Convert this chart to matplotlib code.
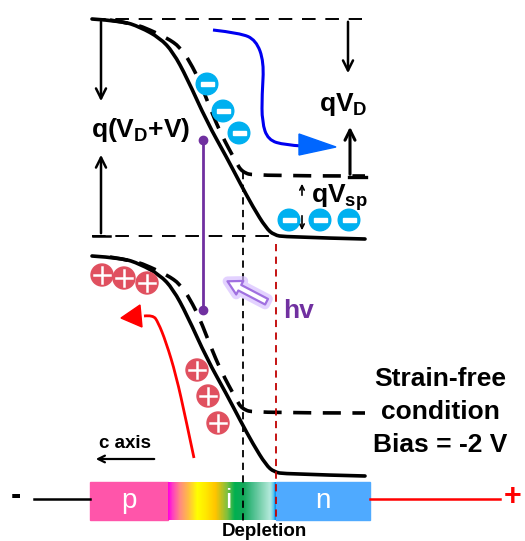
import matplotlib
matplotlib.use("Agg")
import matplotlib.pyplot as plt
import numpy as np
from matplotlib.path import Path
from matplotlib.patches import PathPatch, Circle, Rectangle, FancyArrowPatch, Polygon
from matplotlib.colors import LinearSegmentedColormap
import matplotlib.patheffects as pe

plt.rcParams['font.family'] = ['Liberation Sans', 'DejaVu Sans']
plt.rcParams['mathtext.fontset'] = 'custom'
plt.rcParams['mathtext.rm'] = 'Liberation Sans:bold'
plt.rcParams['mathtext.it'] = 'Liberation Sans:bold'
plt.rcParams['mathtext.bf'] = 'Liberation Sans:bold'
plt.rcParams['mathtext.default'] = 'rm'

# conduction band (pixel coords of the schematic), valence band is the same shape shifted down
cb_x = [92, 122, 140, 160, 173, 187, 207, 227, 240, 253, 266, 274, 285, 365]
cb_y = [19, 21, 27, 38, 52, 78, 122, 158, 183, 207, 228, 235, 237, 239]
cb_dash_x = [110, 135, 150, 167, 180, 190, 200, 210, 221, 236, 242, 255, 365]
cb_dash_y = [20, 24, 30, 38, 47, 62, 82, 108, 134, 162, 172, 176, 176]
vb_shift = 237

electrons_x = [207, 223, 239, 289, 320, 349]
electrons_y = [84, 111, 133, 220, 220, 220]
holes_x = [102, 124, 147, 197, 208, 218]
holes_y = [275, 278, 283, 370, 396, 423]

# layer bar: p | i (graded) | n
bar_edges = [90, 168, 276, 370]
bar_labels = ['p', 'i', 'n']
grad_pos = [0.0, 0.04, 0.11, 0.19, 0.27, 0.35, 0.44, 0.55, 0.62, 0.70, 0.78, 0.88, 0.95, 0.98, 1.0]
grad_cols = ['#FF00E0', '#FF40C0', '#FF8C80', '#FFC040', '#FFFF00', '#FFE800', '#FFC400',
             '#7CC040', '#00B050', '#12A858', '#45BC88', '#88D6B8', '#B4EADC', '#60C8F0', '#0090F0']

fig = plt.figure(figsize=(5.25, 5.41), dpi=100)
ax = fig.add_axes([0, 0, 1, 1])
ax.set_xlim(0, 525)
ax.set_ylim(541, 0)
ax.axis('off')


def smooth(xs, ys):
    # quadratic b-spline through midpoints
    pts = list(zip(xs, ys))
    verts = [pts[0]]
    codes = [Path.MOVETO]
    for i in range(1, len(pts) - 1):
        mid = ((pts[i][0] + pts[i + 1][0]) / 2, (pts[i][1] + pts[i + 1][1]) / 2)
        if i == len(pts) - 2:
            mid = pts[-1]
        verts += [pts[i], mid]
        codes += [Path.CURVE3, Path.CURVE3]
    return Path(verts, codes)


# reference dashed lines
ax.plot([92, 362], [19, 19], color='k', lw=1.4, ls=(0, (7, 5)))
ax.plot([92, 276], [236, 236], color='k', lw=1.4, ls=(0, (7, 5)))
ax.plot([243, 243], [172, 522], color='k', lw=1.3, ls=(0, (4, 3)))
ax.plot([276, 276], [244, 522], color='#C00000', lw=1.3, ls=(0, (4, 3)))

# bands
for off in [0, vb_shift]:
    ys = [y + off for y in cb_y]
    ax.add_patch(PathPatch(smooth(cb_x, ys), fill=False, lw=2.6, ec='k', capstyle='round'))
    ysd = [y + off for y in cb_dash_y]
    ax.add_patch(PathPatch(smooth(cb_dash_x, ysd), fill=False, lw=2.6, ec='k',
                           ls=(0, (5, 3.2))))

# energy arrows
ax.annotate('', xy=(101, 104), xytext=(101, 19), arrowprops=dict(arrowstyle='->', lw=1.8, color='k', mutation_scale=18))
ax.annotate('', xy=(101, 152), xytext=(101, 236), arrowprops=dict(arrowstyle='->', lw=1.8, color='k', mutation_scale=18))
ax.plot([93, 110], [236, 236], color='k', lw=1.8)
ax.text(91, 130, r'q(V$_{D}$+V)', fontsize=19, fontweight='bold', ha='left', va='center')

ax.annotate('', xy=(348, 76), xytext=(348, 19), arrowprops=dict(arrowstyle='->', lw=1.8, color='k', mutation_scale=18))
ax.annotate('', xy=(350, 124), xytext=(350, 177), arrowprops=dict(arrowstyle='->', lw=2.2, color='k', mutation_scale=18))
ax.plot([349, 366], [177, 177], color='k', lw=2.4)
ax.text(319, 104, r'qV$_{D}$', fontsize=19, fontweight='bold', ha='left', va='center')

ax.annotate('', xy=(302, 181), xytext=(302, 198), arrowprops=dict(arrowstyle='->', lw=1.2, color='k', mutation_scale=8))
ax.annotate('', xy=(302, 233), xytext=(302, 213), arrowprops=dict(arrowstyle='->', lw=1.2, color='k', mutation_scale=8))
ax.text(311, 198, r'qV$_{sp}$', fontsize=19, fontweight='bold', ha='left', va='center')

# carriers
for x, y in zip(electrons_x, electrons_y):
    ax.add_patch(Circle((x, y), 10.8, color='#00B0F0', zorder=5))
    ax.add_patch(Rectangle((x - 6.5, y - 2.2), 13, 4.4, color='white', zorder=6))
for x, y in zip(holes_x, holes_y):
    ax.add_patch(Circle((x, y), 11, color='#E0505F', zorder=5))
    ax.plot([x - 8, x + 8], [y, y], color='white', lw=1.8, zorder=6)
    ax.plot([x, x], [y - 8, y + 8], color='white', lw=1.8, zorder=6)

# blue electron path
blue_x = [213, 240, 256, 264, 262, 262, 268, 285, 302]
blue_y = [30, 33, 40, 62, 95, 122, 140, 145, 146]
ax.add_patch(PathPatch(smooth(blue_x, blue_y), fill=False, lw=2.2, ec='#0000F0'))
ax.add_patch(Polygon([[299, 134], [336, 147], [299, 155]], closed=True, color='#0066FF'))

# red hole path
red_x = [194, 186, 176, 166, 158, 153, 144]
red_y = [458, 420, 375, 342, 322, 315, 316]
ax.add_patch(PathPatch(smooth(red_x, red_y), fill=False, lw=2.0, ec='#FF0000'))
ax.add_patch(Polygon([[140, 305], [121, 318], [142, 327]], closed=True, color='#FF0000'))

# photon
ax.plot([203, 203], [140, 310], color='#7030A0', lw=2.0)
ax.plot([203, 203], [140, 310], 'o', color='#7030A0', ms=6)
hv = FancyArrowPatch((269, 303), (225, 280), arrowstyle='simple,head_width=1.1,head_length=1.0,tail_width=0.45',
                     mutation_scale=10, fc='white', ec='#A070E0', lw=1.6, zorder=6)
hv.set_path_effects([pe.Stroke(linewidth=7, foreground='#D8C0FF', alpha=0.7), pe.Normal()])
ax.add_patch(hv)
ax.text(283, 311, 'hv', fontsize=19, fontweight='bold', color='#7030A0', ha='left', va='center')

# condition text
ax.text(440, 379, 'Strain-free', fontsize=19, fontweight='bold', ha='center', va='center')
ax.text(440, 412, 'condition', fontsize=19, fontweight='bold', ha='center', va='center')
ax.text(440, 445, 'Bias = -2 V', fontsize=19, fontweight='bold', ha='center', va='center')

# c axis
ax.text(125, 443, 'c axis', fontsize=13.5, fontweight='bold', ha='center', va='center')
ax.annotate('', xy=(93, 459), xytext=(157, 459), arrowprops=dict(arrowstyle='->', lw=1.6, color='k', mutation_scale=12))

# device bar
y0, y1 = 482, 520
ax.add_patch(Rectangle((bar_edges[0], y0), bar_edges[1] - bar_edges[0], y1 - y0, color='#FF55AA', zorder=1))
ax.add_patch(Rectangle((bar_edges[2], y0), bar_edges[3] - bar_edges[2], y1 - y0, color='#4FAAFF', zorder=1))
cmap = LinearSegmentedColormap.from_list('grad', list(zip(grad_pos, grad_cols)))
ax.imshow(np.linspace(0, 1, 200)[None, :], cmap=cmap, aspect='auto',
          extent=[bar_edges[1], bar_edges[2], y1, y0], zorder=1)
for lab, a, b in zip(bar_labels, bar_edges[:-1], bar_edges[1:]):
    xc = (a + b) / 2 if lab != 'i' else 228
    ax.text(xc, 501, lab, fontsize=20, color='white', ha='center', va='center', zorder=2)
ax.set_xlim(0, 525)
ax.set_ylim(541, 0)

ax.plot([34, 90], [499, 499], color='k', lw=1.8)
ax.plot([370, 500], [499, 499], color='#FF0000', lw=1.8)
ax.text(16, 496, '-', fontsize=22, fontweight='bold', ha='center', va='center')
ax.text(513, 497, '+', fontsize=22, fontweight='bold', color='#FF0000', ha='center', va='center')
ax.text(264, 532, 'Depletion', fontsize=13.5, fontweight='bold', ha='center', va='center')

fig.savefig('out.png', dpi=100)
